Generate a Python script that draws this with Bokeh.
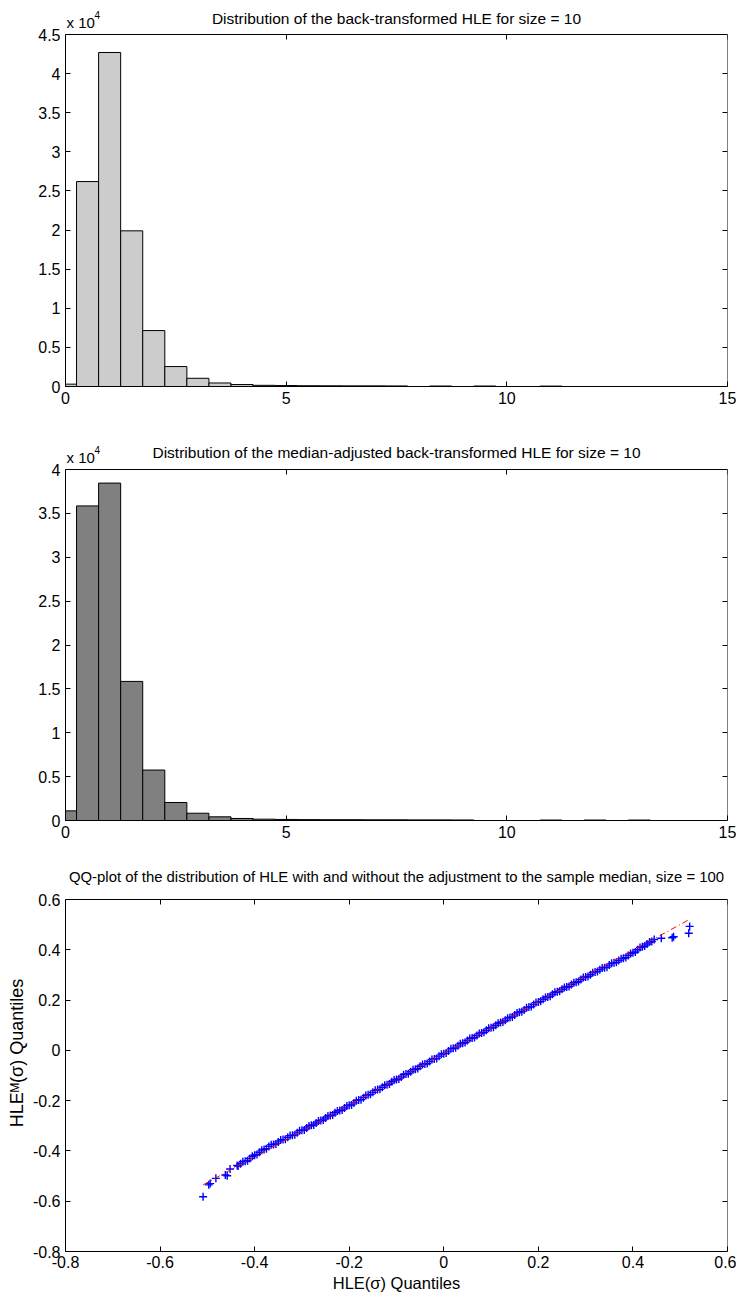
from bokeh.plotting import figure
from bokeh.models import LinearAxis, FixedTicker, Label, Range1d, CustomLabelingPolicy
from bokeh.layouts import column
from bokeh.embed import file_html
from bokeh.resources import INLINE

FONT = "Liberation Sans"

# ---------------- data ----------------
hist_x_ticks = [0, 5, 10, 15]
hist_x_max = 15

hist1_title = "Distribution of the back-transformed HLE for size = 10"
hist1_centers = [0.0, 0.5, 1.0, 1.5, 2.0, 2.5, 3.0, 3.5, 4.0, 4.5, 5.0, 5.5, 6.0, 6.5, 7.0, 7.5, 8.5, 9.5, 11.0]
hist1_counts = [300, 26200, 42700, 19900, 7150, 2550, 1050, 450, 250, 150, 120, 100, 90, 80, 80, 70, 60, 60, 50]
hist1_y_ticks = [0, 5000, 10000, 15000, 20000, 25000, 30000, 35000, 40000, 45000]
hist1_y_labels = ["0", "0.5", "1", "1.5", "2", "2.5", "3", "3.5", "4", "4.5"]
hist1_ymax = 45000

hist2_title = "Distribution of the median-adjusted back-transformed HLE for size = 10"
hist2_centers = [0.0, 0.5, 1.0, 1.5, 2.0, 2.5, 3.0, 3.5, 4.0, 4.5, 5.0, 5.5, 6.0, 6.5, 7.0, 7.5, 8.0, 8.5, 9.0, 11.0, 12.0, 13.0]
hist2_counts = [1100, 35850, 38450, 15850, 5750, 2050, 830, 420, 230, 150, 120, 100, 90, 90, 80, 80, 70, 70, 60, 50, 50, 50]
hist2_y_ticks = [0, 5000, 10000, 15000, 20000, 25000, 30000, 35000, 40000]
hist2_y_labels = ["0", "0.5", "1", "1.5", "2", "2.5", "3", "3.5", "4"]
hist2_ymax = 40000

exponent_text = "x 10"
exponent_power = "4"

qq_title = "QQ-plot of the distribution of HLE with and without the adjustment to the sample median, size = 100"
qq_ticks = [-0.8, -0.6, -0.4, -0.2, 0, 0.2, 0.4, 0.6]
qq_tick_labels = ["-0.8", "-0.6", "-0.4", "-0.2", "0", "0.2", "0.4", "0.6"]
qq_min, qq_max = -0.8, 0.6
qq_x = [-0.509, -0.497, -0.494, -0.482, -0.462, -0.458, -0.452, -0.437, -0.435,
        -0.430, -0.425, -0.420, -0.415, -0.410, -0.405, -0.400, -0.395, -0.390, -0.385,
        -0.380, -0.375, -0.370, -0.365, -0.360, -0.355, -0.350, -0.345, -0.340, -0.335,
        -0.330, -0.325, -0.320, -0.315, -0.310, -0.305, -0.300, -0.295, -0.290, -0.285,
        -0.280, -0.275, -0.270, -0.265, -0.260, -0.255, -0.250, -0.245, -0.240, -0.235,
        -0.230, -0.225, -0.220, -0.215, -0.210, -0.205, -0.200, -0.195, -0.190, -0.185,
        -0.180, -0.175, -0.170, -0.165, -0.160, -0.155, -0.150, -0.145, -0.140, -0.135,
        -0.130, -0.125, -0.120, -0.115, -0.110, -0.105, -0.100, -0.095, -0.090, -0.085,
        -0.080, -0.075, -0.070, -0.065, -0.060, -0.055, -0.050, -0.045, -0.040, -0.035,
        -0.030, -0.025, -0.020, -0.015, -0.010, -0.005, 0.000, 0.005, 0.010, 0.015,
        0.020, 0.025, 0.030, 0.035, 0.040, 0.045, 0.050, 0.055, 0.060, 0.065,
        0.070, 0.075, 0.080, 0.085, 0.090, 0.095, 0.100, 0.105, 0.110, 0.115,
        0.120, 0.125, 0.130, 0.135, 0.140, 0.145, 0.150, 0.155, 0.160, 0.165,
        0.170, 0.175, 0.180, 0.185, 0.190, 0.195, 0.200, 0.205, 0.210, 0.215,
        0.220, 0.225, 0.230, 0.235, 0.240, 0.245, 0.250, 0.255, 0.260, 0.265,
        0.270, 0.275, 0.280, 0.285, 0.290, 0.295, 0.300, 0.305, 0.310, 0.315,
        0.320, 0.325, 0.330, 0.335, 0.340, 0.345, 0.350, 0.355, 0.360, 0.365,
        0.370, 0.375, 0.380, 0.385, 0.390, 0.395, 0.400, 0.405, 0.410, 0.415,
        0.420, 0.425, 0.430, 0.435, 0.440,
        0.445, 0.460, 0.483, 0.486, 0.518, 0.520]
qq_y = [-0.582, -0.535, -0.530, -0.509, -0.496, -0.499, -0.472, -0.458, -0.460,
        -0.451, -0.443, -0.441, -0.439, -0.430, -0.421, -0.417, -0.414, -0.405, -0.397,
        -0.394, -0.391, -0.382, -0.375, -0.374, -0.372, -0.364, -0.357, -0.355, -0.354,
        -0.346, -0.339, -0.338, -0.336, -0.328, -0.320, -0.318, -0.317, -0.309, -0.301,
        -0.298, -0.297, -0.289, -0.281, -0.279, -0.277, -0.269, -0.261, -0.259, -0.257,
        -0.248, -0.241, -0.239, -0.237, -0.229, -0.221, -0.218, -0.217, -0.209, -0.200,
        -0.197, -0.196, -0.188, -0.180, -0.177, -0.175, -0.167, -0.159, -0.156, -0.155,
        -0.147, -0.139, -0.137, -0.134, -0.125, -0.118, -0.116, -0.114, -0.106, -0.097,
        -0.094, -0.093, -0.085, -0.077, -0.075, -0.072, -0.063, -0.056, -0.054, -0.052,
        -0.044, -0.036, -0.034, -0.032, -0.023, -0.015, -0.013, -0.011, -0.003, 0.006,
        0.008, 0.010, 0.018, 0.026, 0.028, 0.031, 0.039, 0.047, 0.049, 0.051,
        0.059, 0.067, 0.069, 0.072, 0.080, 0.088, 0.090, 0.092, 0.100, 0.108,
        0.111, 0.113, 0.120, 0.128, 0.131, 0.133, 0.141, 0.149, 0.152, 0.154,
        0.161, 0.169, 0.172, 0.174, 0.182, 0.190, 0.192, 0.195, 0.203, 0.210,
        0.212, 0.215, 0.223, 0.231, 0.233, 0.235, 0.243, 0.250, 0.252, 0.254,
        0.262, 0.269, 0.271, 0.274, 0.282, 0.290, 0.292, 0.294, 0.301, 0.309,
        0.312, 0.314, 0.321, 0.328, 0.329, 0.331, 0.339, 0.346, 0.348, 0.350,
        0.357, 0.364, 0.366, 0.369, 0.377, 0.385, 0.388, 0.391, 0.400, 0.409,
        0.412, 0.415, 0.423, 0.431, 0.433,
        0.441, 0.446, 0.448, 0.452, 0.466, 0.493]
qq_ref_x = [-0.509, 0.520]
qq_ref_y = [-0.535, 0.521]
qq_xlabel = "HLE(σ) Quantiles"
qq_ylabel = "HLEᴹ(σ) Quantiles"

# ---------------- layout constants (pixels) ----------------
FIG_W = 736
BORDER_L = 65
BORDER_R = 9
TICK_FS = "16px"
TITLE_FS = "15.5px"


def no_labels():
    return CustomLabelingPolicy(code="return []")


def style_axis(ax, ticks, show_labels=True):
    ax.ticker = FixedTicker(ticks=ticks, minor_ticks=[])
    ax.major_tick_in = 5
    ax.major_tick_out = 0
    ax.minor_tick_in = 0
    ax.minor_tick_out = 0
    ax.axis_line_color = "black"
    ax.axis_line_width = 1
    ax.major_tick_line_color = "black"
    ax.major_tick_line_width = 1
    if show_labels:
        ax.major_label_text_font = FONT
        ax.major_label_text_font_size = TICK_FS
        ax.major_label_text_color = "black"
        ax.major_label_standoff = 5
    else:
        ax.major_label_text_font_size = "1px"
        ax.major_label_standoff = 0
        ax.major_label_policy = no_labels()


def make_fig(height, pad_top, data_h, bottom, x0, x1, y0, y1):
    # the frame is extended upward by pad_top pixels so that the title row
    # lives inside the frame; the visible box is drawn by four axes.
    y_end = y0 + (y1 - y0) * (data_h + pad_top) / data_h
    p = figure(width=FIG_W, height=height,
               x_range=Range1d(x0, x1), y_range=Range1d(y0, y_end),
               output_backend="svg", toolbar_location=None,
               min_border_left=BORDER_L, min_border_right=BORDER_R,
               min_border_top=0, min_border_bottom=bottom)
    p.title.text = ""
    p.xgrid.visible = False
    p.ygrid.visible = False
    p.outline_line_color = None
    p.background_fill_color = "white"
    p.border_fill_color = "white"
    return p


def add_box(p, xticks, yticks, x0, x1, y0, y1):
    bottom_ax = p.below[0]
    left_ax = p.left[0]
    style_axis(bottom_ax, xticks)
    style_axis(left_ax, yticks)
    left_ax.bounds = (y0, y1)
    top_ax = LinearAxis(fixed_location=y1)
    style_axis(top_ax, xticks, show_labels=False)
    p.add_layout(top_ax, "above")
    right_ax = LinearAxis(fixed_location=x1, bounds=(y0, y1))
    style_axis(right_ax, yticks, show_labels=False)
    p.add_layout(right_ax, "right")
    return bottom_ax, left_ax


def add_title(p, text, xc, ytop, offset, size=TITLE_FS):
    p.add_layout(Label(x=xc, y=ytop, y_offset=offset, text=text,
                       text_font=FONT, text_font_size=size, text_color="black",
                       text_align="center", text_baseline="alphabetic"))


def add_exponent(p, x0, ytop):
    p.add_layout(Label(x=x0, y=ytop, x_offset=1, y_offset=12, text=exponent_text,
                       text_font=FONT, text_font_size="15px", text_color="black",
                       text_baseline="alphabetic", text_align="left"))
    p.add_layout(Label(x=x0, y=ytop, x_offset=29, y_offset=20, text=exponent_power,
                       text_font=FONT, text_font_size="10px", text_color="black",
                       text_baseline="alphabetic", text_align="left"))


def hist_fig(height, pad_top, data_h, bottom, title, centers, counts, yticks, ylabels, ymax, fill, title_off):
    p = make_fig(height, pad_top, data_h, bottom, 0, hist_x_max, 0, ymax)
    p.vbar(x=centers, top=counts, bottom=0, width=0.5,
           fill_color=fill, line_color="black", line_width=1)
    bottom_ax, left_ax = add_box(p, hist_x_ticks, yticks, 0, hist_x_max, 0, ymax)
    left_ax.major_label_overrides = {t: l for t, l in zip(yticks, ylabels)}
    add_title(p, title, hist_x_max / 2, ymax, title_off)
    add_exponent(p, 0, ymax)
    return p


# ---------------- figures ----------------
p1 = hist_fig(422, 34, 352, 36, hist1_title, hist1_centers, hist1_counts,
              hist1_y_ticks, hist1_y_labels, hist1_ymax, "#cccccc", 16.5)
p2 = hist_fig(432, 47, 351, 34, hist2_title, hist2_centers, hist2_counts,
              hist2_y_ticks, hist2_y_labels, hist2_ymax, "#808080", 17)

p3 = make_fig(441, 45, 352, 44, qq_min, qq_max, qq_min, qq_max)
p3.scatter(qq_x, qq_y, marker="cross", size=8, line_color="#0000ff", line_width=1.4)
p3.line(qq_ref_x, qq_ref_y, line_color="#ff0000", line_width=1, line_dash="6 3 1 3")
qq_bottom, qq_left = add_box(p3, qq_ticks, qq_ticks, qq_min, qq_max, qq_min, qq_max)
qq_bottom.major_label_overrides = {t: l for t, l in zip(qq_ticks, qq_tick_labels)}
qq_left.major_label_overrides = {t: l for t, l in zip(qq_ticks, qq_tick_labels)}
qq_bottom.major_label_standoff = 4
qq_bottom.axis_label = qq_xlabel
qq_left.axis_label = qq_ylabel
for ax in (qq_bottom, qq_left):
    ax.axis_label_text_font = FONT
    ax.axis_label_text_font_style = "normal"
    ax.axis_label_text_color = "black"
    ax.axis_label_standoff = 3
qq_bottom.axis_label_text_font_size = "16.5px"
qq_left.axis_label_text_font_size = "18px"
add_title(p3, qq_title, (qq_min + qq_max) / 2, qq_max, 23, size="14.9px")

layout = column(p1, p2, p3, spacing=0)
open("out.html", "w").write(file_html(layout, INLINE))
